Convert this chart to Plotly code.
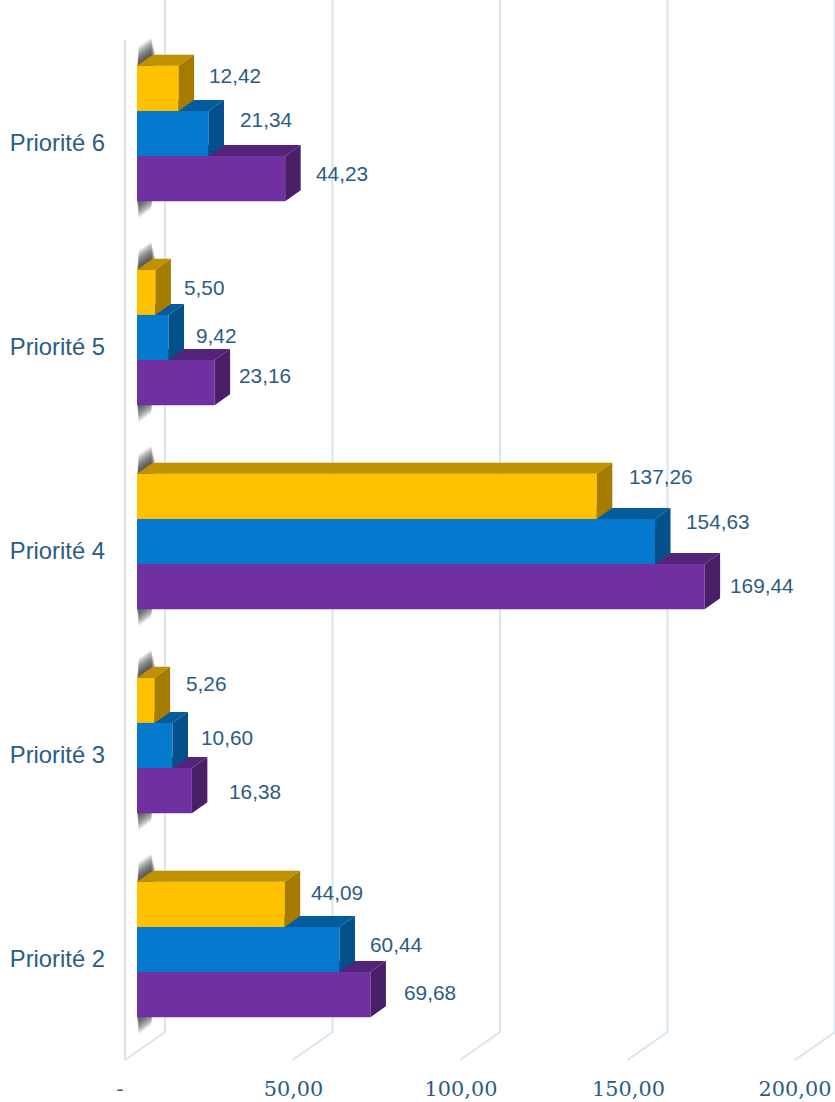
import plotly.graph_objects as go

categories = ["Priorité 2", "Priorité 3", "Priorité 4", "Priorité 5", "Priorité 6"]
yellow_values = [44.09, 5.26, 137.26, 5.50, 12.42]
blue_values = [60.44, 10.60, 154.63, 9.42, 21.34]
purple_values = [69.68, 16.38, 169.44, 23.16, 44.23]
tick_values = [0, 50, 100, 150, 200]
tick_labels = ["-", "50,00", "100,00", "150,00", "200,00"]

# ---- layout constants (pixels) ----
W, H = 835, 1102
PLOT_L, PLOT_B = 106, 1074
ZERO_PX, PX_PER_UNIT = 137, 3.35
GROUP_PX = 204
P2_CENTER_PX = 949.5
BAR_PX = 45.2
DEPTH_X, DEPTH_Y = 15.5, 11


def dx(px):
    return px / PX_PER_UNIT


def dy(px):
    return px / GROUP_PX


x_range = [(PLOT_L - ZERO_PX) / PX_PER_UNIT, (W - ZERO_PX) / PX_PER_UNIT]
y_range = [(P2_CENTER_PX - PLOT_B) / GROUP_PX, P2_CENTER_PX / GROUP_PX]

series = [
    ("Série 3", purple_values, -1, "#7030A0", "#54247A", "#491F68"),
    ("Série 2", blue_values, 0, "#0579CE", "#045C9C", "#03508A"),
    ("Série 1", yellow_values, 1, "#FFC000", "#BF9000", "#A67C00"),
]

# per-label text offsets from the bar end (px): [right, up], same order as categories
label_gaps = {
    "Série 1": [(24, 11.5), (29, 16.5), (30, 19.5), (26.5, 4.5), (28, 12.5)],
    "Série 2": [(28.5, 5.5), (26, 8.5), (28.5, 20), (25.5, 2), (29.5, 14)],
    "Série 3": [(31.5, 2.5), (35, -0.5), (23.5, 1), (22.5, 7), (28.5, 5)],
}

fig = go.Figure()

# ---- wall and floor guide lines ----
grid_color = "#D8E5EF"
floor_back = y_range[0] + dy(PLOT_B - 1032)
floor_front = y_range[0] + dy(PLOT_B - 1060)
back_off, front_off = dx(165 - ZERO_PX), dx(125 - ZERO_PX)
gx, gy = [], []
for v in tick_values:
    gx += [v + back_off, v + back_off, v + front_off, None]
    gy += [y_range[1], floor_back, floor_front, None]
gx += [front_off, front_off, None]
gy += [y_range[1] - dy(40), floor_front, None]
fig.add_trace(go.Scatter(x=gx, y=gy, mode="lines", line=dict(color=grid_color, width=2),
                         hoverinfo="skip", showlegend=False))

# ---- soft wall shadow behind each group (stacked translucent layers fake the blur) ----
half_group = 1.5 * BAR_PX
slope = DEPTH_Y / DEPTH_X
for step in range(18):
    e = 1 + step * 1.0
    x0 = 0 + step * 0.1
    x1 = 18 - step * 0.22
    sx, sy = [], []
    for i in range(len(categories)):
        top = i + dy(half_group + e)
        bot = i - dy(half_group + e)
        sx += [dx(x0), dx(x1), dx(x1), dx(x0), dx(x0), None]
        sy += [top + dy(x0 * slope), top + dy(x1 * slope),
               bot + dy(x1 * slope), bot + dy(x0 * slope), top + dy(x0 * slope), None]
    fig.add_trace(go.Scatter(x=sx, y=sy, mode="lines", fill="toself", line=dict(width=0),
                             fillcolor="rgba(40,40,40,0.075)", hoverinfo="skip", showlegend=False))

# ---- bars: one overlaying subplot per series so that nearer bars cover farther ones ----
for n, (name, values, slot, front, top_c, side_c) in enumerate(series):
    xa, ya = f"x{n + 2}", f"y{n + 2}"
    centers = [i + slot * dy(BAR_PX) for i in range(len(categories))]
    half = dy(BAR_PX) / 2
    tx, ty, rx, ry = [], [], [], []
    for v, c in zip(values, centers):
        tx += [0, dx(DEPTH_X), v + dx(DEPTH_X), v, 0, None]
        ty += [c + half, c + half + dy(DEPTH_Y), c + half + dy(DEPTH_Y), c + half, c + half, None]
        rx += [v, v + dx(DEPTH_X), v + dx(DEPTH_X), v, v, None]
        ry += [c - half, c - half + dy(DEPTH_Y), c + half + dy(DEPTH_Y), c + half, c - half, None]
    fig.add_trace(go.Bar(name=name, y=centers, x=values, orientation="h", width=dy(BAR_PX),
                         marker=dict(color=front, line=dict(width=0)), xaxis=xa, yaxis=ya,
                         hoverinfo="skip", showlegend=False))
    for px_, py_, col in [(tx, ty, top_c), (rx, ry, side_c)]:
        fig.add_trace(go.Scatter(x=px_, y=py_, mode="lines", fill="toself", line=dict(width=0),
                                 fillcolor=col, xaxis=xa, yaxis=ya, hoverinfo="skip", showlegend=False))
    for v, c, (gap, up) in zip(values, centers, label_gaps[name]):
        fig.add_annotation(x=v, y=c, xref="x", yref="y", text=f"{v:.2f}".replace(".", ","),
                           showarrow=False, xanchor="left", yanchor="middle", xshift=gap, yshift=up,
                           font=dict(family="Liberation Sans", size=20.8, color="#2B5C84"))

overlay = dict(range=x_range, overlaying="x", visible=False, fixedrange=True)
overlay_y = dict(range=y_range, overlaying="y", visible=False, fixedrange=True)
tick_nudge_px = [-5, 1, 1, 1, 0]

fig.update_layout(
    width=W, height=H, autosize=False,
    margin=dict(l=PLOT_L, r=0, t=0, b=H - PLOT_B, pad=0),
    paper_bgcolor="white", plot_bgcolor="white",
    showlegend=False,
    xaxis=dict(range=x_range, showgrid=False, zeroline=False, showline=False, ticks="",
               tickmode="array", tickvals=[v + front_off + dx(n) for v, n in zip(tick_values, tick_nudge_px)],
               ticktext=tick_labels,
               tickfont=dict(family="DejaVu Serif", size=20.8, color="#2B5C84"), fixedrange=True),
    yaxis=dict(range=y_range, showgrid=False, zeroline=False, showline=False, ticks="",
               tickmode="array", tickvals=[i - dy(9.5) for i in range(len(categories))], ticktext=categories,
               tickfont=dict(family="Liberation Sans", size=23.8, color="#2B5C84"), fixedrange=True),
    xaxis2=overlay, yaxis2=overlay_y,
    xaxis3=overlay, yaxis3=overlay_y,
    xaxis4=overlay, yaxis4=overlay_y,
)
fig.write_html("out.html", config={"displayModeBar": False},
               post_script="document.body.style.margin='0';document.body.style.overflow='hidden';")
